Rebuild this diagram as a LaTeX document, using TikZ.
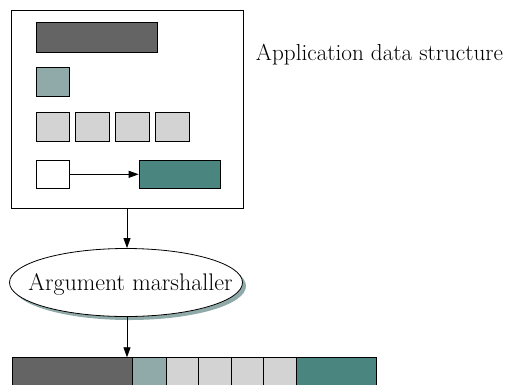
\documentclass[tikz,border=0pt]{standalone}
\usetikzlibrary{arrows.meta,shapes.geometric}
\definecolor{darkgrey}{HTML}{646464}
\definecolor{lightteal}{HTML}{8FAAA8}
\definecolor{boxgrey}{HTML}{D3D3D3}
\definecolor{tealfill}{HTML}{4B8580}
\tikzset{
  blk/.style={draw=black, line width=0.8pt, inner sep=0pt, rectangle},
  arr/.style={line width=0.8pt, -{Triangle[length=10pt,width=7pt]}},
  lbl/.style={font=\fontsize{23.2}{27}\selectfont, inner sep=0pt},
  ellshape/.style={ellipse, minimum width=233pt, minimum height=68pt, inner sep=0pt},
}
\begin{document}
\begin{tikzpicture}[x=1pt,y=-1pt]
\useasboundingbox (0,0) rectangle (506,384);
\clip (0,0) rectangle (506,384);
% outer box
\node[blk, minimum width=232pt, minimum height=198pt] (outer) at (127,109) {};
\node[blk, fill=darkgrey, minimum width=121pt, minimum height=29.6pt] (d1) at (96.5,37.5) {};
\node[blk, fill=lightteal, minimum width=33.5pt, minimum height=29pt] (s1) at (52.75,81.5) {};
\node[blk, fill=boxgrey, minimum width=33.5pt, minimum height=29.7pt] (g1) at (52.75,127) {};
\node[blk, fill=boxgrey, minimum width=33.5pt, minimum height=29.7pt] (g2) at (92.5,127) {};
\node[blk, fill=boxgrey, minimum width=33.5pt, minimum height=29.7pt] (g3) at (132.5,127) {};
\node[blk, fill=boxgrey, minimum width=33.5pt, minimum height=29.7pt] (g4) at (172.5,127) {};
\node[blk, fill=white, minimum width=33.5pt, minimum height=28.7pt] (w1) at (52.75,174.3) {};
\node[blk, fill=tealfill, minimum width=81.7pt, minimum height=28.7pt] (t1) at (179.9,174.3) {};
\draw[arr] (w1.east) -- (t1.west);
\node[lbl, anchor=base] (lab) at (379.5,60) {Application data structure};
% ellipse with shadow
\node[ellshape, fill=lightteal] (shadow) at (129.5,286) {};
\node[ellshape, draw=black, line width=0.8pt, fill=white] (ell) at (126,282.5) {};
\node[inner sep=0pt, anchor=base, font=\fontsize{24}{28}\selectfont] (elltext) at (130.5,290) {Argument marshaller};
% bottom bar
\node[blk, fill=darkgrey, minimum width=120.7pt, minimum height=34.6pt] (b1) at (72.35,375) {};
\node[blk, fill=lightteal, minimum width=33.3pt, minimum height=34.6pt] (b2) at (149.35,375) {};
\node[blk, fill=boxgrey, minimum width=32.3pt, minimum height=34.6pt] (b3) at (182.15,375) {};
\node[blk, fill=boxgrey, minimum width=32.7pt, minimum height=34.6pt] (b4) at (214.65,375) {};
\node[blk, fill=boxgrey, minimum width=32.3pt, minimum height=34.6pt] (b5) at (247.15,375) {};
\node[blk, fill=boxgrey, minimum width=32.7pt, minimum height=34.6pt] (b6) at (279.65,375) {};
\node[blk, fill=tealfill, minimum width=80.7pt, minimum height=34.6pt] (b7) at (336.35,375) {};
% connectors
\draw[arr] (outer.south) -- (outer.south |- ell.north);
\draw[arr] (ell.south -| outer.south) -- (outer.south |- b1.north);
\end{tikzpicture}
\end{document}
